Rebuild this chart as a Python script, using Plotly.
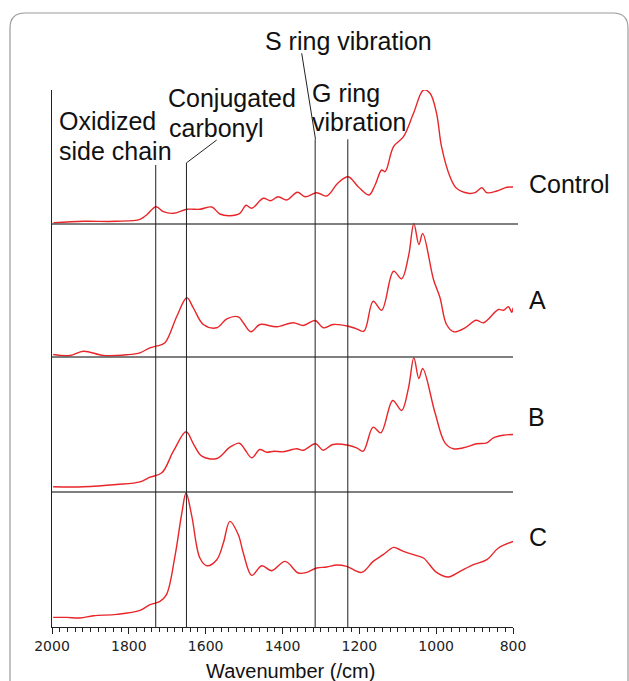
import plotly.graph_objects as go

# ---------------- data ----------------
wn_control = [1996,1918,1832,1771,1754,1729,1710,1684,1649,1615,1584,1563,1537,1511,1495,1480,1450,1431,1411,1389,1361,1341,1311,1285,1255,1229,1203,1175,1159,1142,1133,1111,1085,1059,1033,1016,999,986,964,947,916,899,881,868,842,816,800]
int_control = [1.3,2.7,2.7,4.7,9,17.3,12.3,10.7,14.7,14.7,17,10,8.3,10.7,18.7,15.7,25.7,23.3,27.3,24,31.7,27.3,31.3,28,41.3,47.3,37.3,29,39,54,52.3,77.3,87.3,110.7,134,130.7,110.7,77.3,47.3,35.7,30.7,31.3,36.3,31.3,33,36.7,37]

wn_a = [1997,1953,1918,1866,1806,1771,1745,1728,1706,1675,1649,1632,1606,1571,1545,1515,1502,1482,1459,1415,1372,1346,1315,1294,1268,1229,1207,1188,1164,1142,1111,1090,1072,1058,1045,1035,1007,990,973,954,925,896,877,838,825,812,803,800]
int_a = [2.5,1.5,5.8,1.5,2.2,4.2,9.2,10.8,14.2,40.8,59.2,49,32.5,29.2,38.2,40.2,34.2,25.2,32.5,30.2,34.2,31.5,36.5,29.2,32.5,30.8,28.2,25.8,55.8,46.8,85.8,78.2,100.8,133.5,112.5,123.5,77.5,59.2,32.5,25.2,29.2,36.8,34.2,47.5,46.8,50.2,44.8,49.2]

wn_b = [1997,1918,1832,1771,1745,1714,1684,1651,1632,1610,1571,1537,1512,1498,1480,1459,1441,1422,1398,1363,1346,1314,1294,1269,1229,1207,1190,1164,1144,1113,1090,1072,1058,1045,1035,1003,977,955,929,895,868,851,825,800]
int_b = [5.2,5.2,7.5,10.2,14.8,19.2,40.8,60.2,48.2,35.8,33.5,44.8,48.8,42.5,34.2,42.5,39.8,40.8,40.2,43.2,41.8,48.2,41.8,47.5,46.8,44.2,40.8,64.8,59.2,91.5,81.5,104.2,134.2,113.5,123.5,79.2,49.2,43.2,44.2,48.2,49.2,54.2,56.8,57.5]

wn_c = [1997,1962,1927,1892,1832,1771,1745,1719,1702,1680,1662,1651,1636,1615,1597,1571,1554,1537,1515,1502,1480,1454,1428,1393,1359,1337,1311,1285,1259,1233,1194,1164,1138,1111,1098,1085,1051,1033,999,968,938,903,868,838,800]
int_c = [9.6,9.6,9,11.3,12.6,16.6,22.3,25.6,32.3,70.6,114,134,110.6,69,61.3,67.3,84,105.6,92.3,74,51.6,61.3,56.3,65.6,54,54.6,59,60,62,60.6,54.6,65.6,72.3,79.6,78,75.6,71.3,69,54.6,50,55.6,62.3,67.3,79,85.6]

series_names = ["Control", "A", "B", "C"]
marker_wn = [1730, 1650, 1315, 1230]          # vertical guide lines
tick_vals = [2000, 1800, 1600, 1400, 1200, 1000, 800]

# ---------------- layout constants ----------------
W, H = 629, 681
ML, MR, MT, MB = 52, 116, 90, 54
PW, PH = W - ML - MR, H - MT - MB
offsets = [403, 270, 135, 0]                  # vertical stacking of panels
RED = "rgb(232,38,42)"
FONT = "Liberation Sans, Arial, sans-serif"


def px(x):
    return (x - ML) / PW


def py(y):
    return (H - MB - y) / PH


fig = go.Figure()
data = [(wn_control, int_control), (wn_a, int_a), (wn_b, int_b), (wn_c, int_c)]
for (wn, iv), off, name in zip(data, offsets, series_names):
    fig.add_trace(go.Scatter(
        x=wn, y=[v + off for v in iv], mode="lines", name=name,
        line=dict(color=RED, width=1.4, shape="spline", smoothing=1.0),
        showlegend=False, hoverinfo="skip"))

shapes = []
# panel separators
for i, off in enumerate(offsets[:-1]):
    shapes.append(dict(type="line", xref="paper", yref="y", x0=0,
                       x1=px(518) if i == 0 else 1.0, y0=off, y1=off,
                       line=dict(color="#555", width=1.5)))
# vertical guide lines
tops = [165, 162.7, 139.3, 139.3]
for w, t in zip(marker_wn, tops):
    shapes.append(dict(type="line", xref="x", yref="paper", x0=w, x1=w,
                       y0=0, y1=py(t), line=dict(color="#222", width=1)))
# leaders
shapes.append(dict(type="line", xref="paper", yref="paper",
                   x0=px(186.7), y0=py(162.7), x1=px(216.7), y1=py(140),
                   line=dict(color="#222", width=1)))
shapes.append(dict(type="line", xref="paper", yref="paper",
                   x0=px(315.5), y0=py(139.3), x1=px(301.7), y1=py(53.3),
                   line=dict(color="#222", width=1)))
# rounded frame
L, T, R, B, r = 10, 13, 628, 700, 15
path = (f"M {px(L)},{py(B)} L {px(L)},{py(T + r)} Q {px(L)},{py(T)} {px(L + r)},{py(T)} "
        f"L {px(R - r)},{py(T)} Q {px(R)},{py(T)} {px(R)},{py(T + r)} L {px(R)},{py(B)}")
shapes.append(dict(type="path", xref="paper", yref="paper", path=path,
                   line=dict(color="#9a9a9a", width=1.2)))

annotations = []


def label(text, x, y, size=25, anchor="left"):
    annotations.append(dict(text=text, x=px(x), y=py(y), xref="paper", yref="paper",
                            xanchor=anchor, yanchor="middle", showarrow=False,
                            font=dict(family=FONT, size=size, color="#111")))


label("Oxidized", 57, 121)
label("side chain", 57, 151)
label("Conjugated", 166, 98)
label("carbonyl", 167, 128)
label("S ring vibration", 263, 41)
label("G ring", 310, 93)
label("vibration", 310, 122)
label("Control", 527, 184)
label("A", 527, 300)
label("B", 526, 417)
label("C", 527, 537)
label("Wavenumber (/cm)", 290, 671, size=20, anchor="center")

fig.update_layout(
    width=W, height=H,
    margin=dict(l=ML, r=MR, t=MT, b=MB, pad=0),
    paper_bgcolor="white", plot_bgcolor="white",
    shapes=shapes, annotations=annotations,
    xaxis=dict(range=[2000, 800], showline=True, linecolor="#222", linewidth=1.2,
               ticks="outside", tickvals=tick_vals, ticklen=6, tickcolor="#222",
               tickwidth=1.2, showgrid=False, zeroline=False,
               tickfont=dict(family="DejaVu Sans, sans-serif", size=14, color="#222"),
               minor=dict(ticks="outside", dtick=20, ticklen=4, tickcolor="#222",
                          tickwidth=1, showgrid=False)),
    yaxis=dict(range=[0, PH], showline=True, linecolor="#222", linewidth=1.2,
               showticklabels=False, ticks="", showgrid=False, zeroline=False),
)

fig.write_html("out.html", config={"displayModeBar": False},
               post_script="document.body.style.margin='0';document.body.style.overflow='hidden';")
